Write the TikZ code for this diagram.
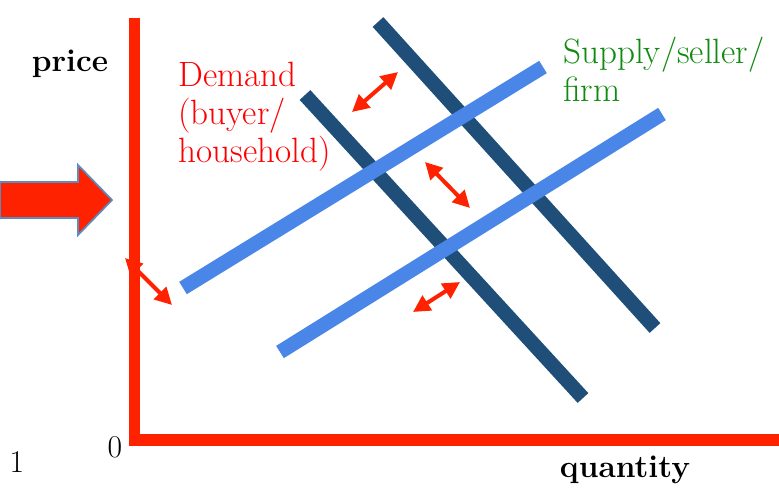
\documentclass[tikz,border=0pt]{standalone}
\usepackage{xcolor}
\usetikzlibrary{arrows.meta,positioning}
\definecolor{axisred}{HTML}{FF2200}
\definecolor{demblue}{HTML}{1F4E79}
\definecolor{supblue}{HTML}{4A86E8}
\definecolor{supgreen}{HTML}{108A10}
\definecolor{edgeblue}{HTML}{5B8BC0}
\begin{document}
\begin{tikzpicture}[x=0.02cm,y=-0.02cm,every node/.style={font=\fontsize{17}{21}\selectfont},
 axis/.style={draw=axisred,line width=0.24cm,line join=miter},
 dem/.style={draw=demblue,line width=0.29cm},
 sup/.style={draw=supblue,line width=0.29cm},
 movearr/.style={{Triangle[length=0.34cm,width=0.34cm]}-{Triangle[length=0.34cm,width=0.34cm]},draw=axisred,fill=axisred,line width=0.08cm},
 lab/.style={align=left,anchor=north west,inner sep=0pt,font=\fontsize{20}{21.5}\selectfont}]
\useasboundingbox (0,0) rectangle (779,495);
% axes
\coordinate (top) at (134.5,18); \coordinate (origin) at (134.5,440); \coordinate (right) at (779,440);
\draw[axis] (top) -- (origin) -- (right);
\node[font=\fontsize{18}{21}\selectfont\bfseries] (price) at (70,64) {price};
\node[font=\fontsize{18}{21}\selectfont\bfseries] (qty) at (625,470) {quantity};
\node[font=\fontsize{18}{21}\selectfont] (zero) at (115,447) {0};
\node[font=\fontsize{18}{21}\selectfont] (one) at (17,462) {1};
% big arrow
\draw[fill=axisred,draw=edgeblue,line width=1pt] (0,182) -- (78,182) -- (78,165) -- (112,200) -- (78,235) -- (78,218) -- (0,218) -- cycle;
% curves
\coordinate (d1a) at (305,95); \coordinate (d1b) at (583,398);
\coordinate (d2a) at (378,22); \coordinate (d2b) at (655,328);
\coordinate (s1a) at (183,288); \coordinate (s1b) at (543,67);
\coordinate (s2a) at (280,352); \coordinate (s2b) at (662,114);
\draw[dem] (d1a) -- (d1b); \draw[dem] (d2a) -- (d2b);
\draw[sup] (s1a) -- (s1b); \draw[sup] (s2a) -- (s2b);
% shift arrows
\foreach \n/\a/\b in {1/{125,258}/{172,305},2/{352,112}/{398,72},3/{425,162}/{470,208},4/{413,312}/{460,282}}{
 \coordinate (sa\n) at (\a); \coordinate (sb\n) at (\b);
 \draw[movearr] (sa\n) -- (sb\n);}
\node[lab,text=red] (demlab) at (178,62) {Demand\\(buyer/\\household)};
\node[lab,text=supgreen] (suplab) at (563,37) {Supply/seller/\\firm};
\end{tikzpicture}
\end{document}
